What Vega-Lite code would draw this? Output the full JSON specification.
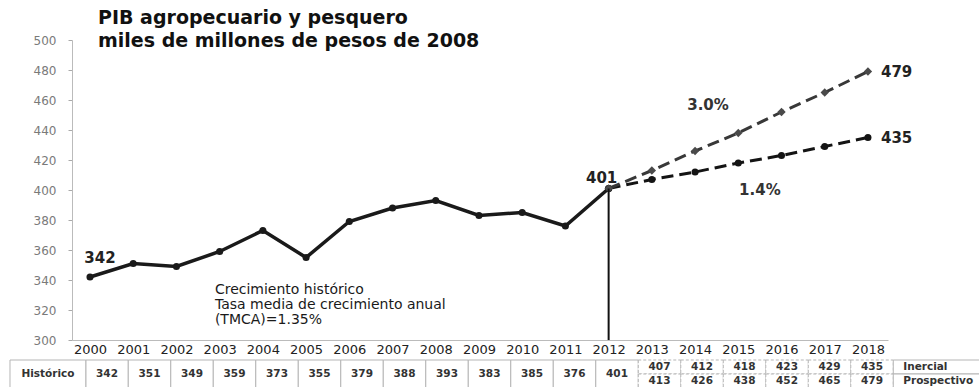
{
  "$schema": "https://vega.github.io/schema/vega-lite/v6.json",
  "width": 816,
  "height": 300,
  "autosize": {"type": "none"},
  "padding": {"left": 72, "top": 40, "right": 91, "bottom": 47},
  "background": "white",
  "config": {"view": {"stroke": null}, "font": "DejaVu Sans", "axis": {"grid": false}},
  "title": {
    "text": ["PIB agropecuario y pesquero", "miles de millones de pesos de 2008"],
    "anchor": "start",
    "frame": "group",
    "font": "DejaVu Sans",
    "fontSize": 19,
    "fontWeight": "bold",
    "color": "#111111",
    "lineHeight": 23,
    "dx": 26,
    "offset": 0,
    "dy": 17
  },
  "datasets": {
    "pib": [
      {"anio": 2000, "serie": "Histórico", "valor": 342},
      {"anio": 2001, "serie": "Histórico", "valor": 351},
      {"anio": 2002, "serie": "Histórico", "valor": 349},
      {"anio": 2003, "serie": "Histórico", "valor": 359},
      {"anio": 2004, "serie": "Histórico", "valor": 373},
      {"anio": 2005, "serie": "Histórico", "valor": 355},
      {"anio": 2006, "serie": "Histórico", "valor": 379},
      {"anio": 2007, "serie": "Histórico", "valor": 388},
      {"anio": 2008, "serie": "Histórico", "valor": 393},
      {"anio": 2009, "serie": "Histórico", "valor": 383},
      {"anio": 2010, "serie": "Histórico", "valor": 385},
      {"anio": 2011, "serie": "Histórico", "valor": 376},
      {"anio": 2012, "serie": "Histórico", "valor": 401},
      {"anio": 2012, "serie": "Inercial", "valor": 401},
      {"anio": 2013, "serie": "Inercial", "valor": 407},
      {"anio": 2014, "serie": "Inercial", "valor": 412},
      {"anio": 2015, "serie": "Inercial", "valor": 418},
      {"anio": 2016, "serie": "Inercial", "valor": 423},
      {"anio": 2017, "serie": "Inercial", "valor": 429},
      {"anio": 2018, "serie": "Inercial", "valor": 435},
      {"anio": 2012, "serie": "Prospectivo", "valor": 401},
      {"anio": 2013, "serie": "Prospectivo", "valor": 413},
      {"anio": 2014, "serie": "Prospectivo", "valor": 426},
      {"anio": 2015, "serie": "Prospectivo", "valor": 438},
      {"anio": 2016, "serie": "Prospectivo", "valor": 452},
      {"anio": 2017, "serie": "Prospectivo", "valor": 465},
      {"anio": 2018, "serie": "Prospectivo", "valor": 479}
    ],
    "notas": [
      {"texto": "3.0%", "anio": 2014.3, "valor": 456.7},
      {"texto": "1.4%", "anio": 2015.5, "valor": 400.3}
    ],
    "nota_historica": [
      {"texto": "Crecimiento histórico\nTasa media de crecimiento anual\n(TMCA)=1.35%", "anio": 2002.89, "valor": 330.5}
    ],
    "encabezados": [
      {"serie": "Histórico"},
      {"serie": "Inercial"},
      {"serie": "Prospectivo"}
    ]
  },
  "layer": [
    {
      "data": {"name": "pib"},
      "encoding": {
        "x": {
          "field": "anio", "type": "quantitative",
          "scale": {"domain": [1999.5835, 2018.464], "nice": false, "zero": false},
          "axis": {
            "values": [2000, 2001, 2002, 2003, 2004, 2005, 2006, 2007, 2008, 2009, 2010, 2011, 2012, 2013, 2014, 2015, 2016, 2017, 2018],
            "format": "d", "title": null, "tickSize": 0, "labelPadding": 3,
            "labelFont": "DejaVu Sans", "labelFontSize": 13, "labelColor": "#222222",
            "labelFlush": false, "labelOverlap": false,
            "domainColor": "#bbbbbb", "domainWidth": 1
          }
        },
        "y": {
          "field": "valor", "type": "quantitative",
          "scale": {"domain": [300, 500], "nice": false, "zero": false},
          "axis": {
            "values": [300, 320, 340, 360, 380, 400, 420, 440, 460, 480, 500],
            "title": null, "tickSize": 4, "tickColor": "#aaaaaa", "labelPadding": 12,
            "labelFont": "DejaVu Sans", "labelFontSize": 12, "labelColor": "#7a7a7a",
            "domainColor": "#bbbbbb", "domainWidth": 1
          }
        }
      },
      "layer": [
        {
          "transform": [{"filter": "datum.serie == 'Histórico'"}],
          "mark": {"type": "line", "color": "#1a1a1a", "strokeWidth": 3.5,
                   "point": {"filled": true, "size": 50, "color": "#1a1a1a"}}
        },
        {
          "transform": [{"filter": "datum.serie == 'Inercial'"}],
          "mark": {"type": "line", "color": "#141414", "strokeWidth": 3, "strokeDash": [12, 6],
                   "point": {"filled": true, "size": 50, "color": "#141414"}}
        },
        {
          "transform": [{"filter": "datum.serie == 'Prospectivo'"}],
          "mark": {"type": "line", "color": "#383838", "strokeWidth": 3, "strokeDash": [12, 6],
                   "point": {"filled": true, "size": 70, "shape": "diamond", "color": "#4a4a4a"}}
        },
        {
          "transform": [{"filter": "datum.serie == 'Histórico' && datum.anio == 2012"}],
          "mark": {"type": "rule", "color": "#111111", "strokeWidth": 2},
          "encoding": {"y2": {"datum": 300}}
        },
        {
          "transform": [{"filter": "datum.serie == 'Histórico' && datum.anio == 2000"}],
          "mark": {"type": "text", "font": "DejaVu Sans", "fontSize": 15, "fontWeight": "bold", "color": "#222222",
                   "align": "center", "baseline": "alphabetic", "dx": 10, "dy": -14},
          "encoding": {"text": {"field": "valor", "type": "quantitative"}}
        },
        {
          "transform": [{"filter": "datum.serie == 'Histórico' && datum.anio == 2012"}],
          "mark": {"type": "text", "font": "DejaVu Sans", "fontSize": 15, "fontWeight": "bold", "color": "#222222",
                   "align": "center", "baseline": "alphabetic", "dx": -7, "dy": -6},
          "encoding": {"text": {"field": "valor", "type": "quantitative"}}
        },
        {
          "transform": [{"filter": "datum.serie != 'Histórico' && datum.anio == 2018"}],
          "mark": {"type": "text", "font": "DejaVu Sans", "fontSize": 15, "fontWeight": "bold", "color": "#222222",
                   "align": "left", "baseline": "middle", "dx": 13},
          "encoding": {"text": {"field": "valor", "type": "quantitative"}}
        },
        {
          "data": {"name": "notas"},
          "mark": {"type": "text", "font": "DejaVu Sans", "fontSize": 15, "fontWeight": "bold", "color": "#333333",
                   "align": "center", "baseline": "middle"},
          "encoding": {"text": {"field": "texto", "type": "nominal"}}
        },
        {
          "data": {"name": "nota_historica"},
          "mark": {"type": "text", "font": "DejaVu Sans", "fontSize": 14, "color": "#1a1a1a",
                   "align": "left", "baseline": "alphabetic", "lineBreak": "\n", "lineHeight": 15},
          "encoding": {"text": {"field": "texto", "type": "nominal"}}
        }
      ]
    },
    {
      "layer": [
        {
          "data": {"name": "pib"},
          "transform": [{"filter": "datum.serie == 'Histórico'"}],
          "mark": {"type": "rect", "fill": "white", "stroke": "#b5b5b5", "strokeWidth": 1, "width": 42.5},
          "encoding": {
            "x": {"field": "anio", "type": "quantitative",
                  "scale": {"domain": [1999.176, 2018.376], "nice": false, "zero": false}, "axis": null},
            "y": {"datum": "Inercial", "type": "nominal", "bandPosition": 0,
                  "scale": {"type": "band", "domain": ["Inercial", "Prospectivo"], "range": [320, 348], "paddingInner": 0, "paddingOuter": 0}, "axis": null},
            "y2": {"datum": "Prospectivo", "bandPosition": 1}
          }
        },
        {
          "data": {"name": "pib"},
          "transform": [{"filter": "datum.serie != 'Histórico' && datum.anio > 2012"}],
          "mark": {"type": "rect", "fill": "white", "stroke": "#b5b5b5", "strokeWidth": 1, "strokeDash": [3, 2], "width": 42.5},
          "encoding": {
            "x": {"field": "anio", "type": "quantitative", "axis": null},
            "y": {"field": "serie", "type": "nominal", "axis": null}
          }
        },
        {
          "data": {"name": "encabezados"},
          "transform": [{"filter": "datum.serie == 'Histórico'"}],
          "mark": {"type": "rect", "fill": "white", "stroke": "#b5b5b5", "strokeWidth": 1},
          "encoding": {
            "x": {"datum": 1997.717, "type": "quantitative", "axis": null},
            "x2": {"datum": 1999.5},
            "y": {"datum": "Inercial", "type": "nominal", "bandPosition": 0, "axis": null},
            "y2": {"datum": "Prospectivo", "bandPosition": 1}
          }
        },
        {
          "data": {"name": "encabezados"},
          "transform": [{"filter": "datum.serie != 'Histórico'"}],
          "mark": {"type": "rect", "fill": "white", "stroke": "#b5b5b5", "strokeWidth": 1},
          "encoding": {
            "x": {"datum": 2018.5, "type": "quantitative", "axis": null},
            "x2": {"datum": 2021.5},
            "y": {"field": "serie", "type": "nominal", "axis": null}
          }
        },
        {
          "data": {"name": "pib"},
          "transform": [{"filter": "datum.serie == 'Histórico'"}],
          "mark": {"type": "text", "font": "DejaVu Sans", "fontSize": 10.5, "fontWeight": "bold", "color": "#333333",
                   "align": "center", "baseline": "middle"},
          "encoding": {
            "x": {"field": "anio", "type": "quantitative", "axis": null},
            "y": {"datum": "Inercial", "type": "nominal", "bandPosition": 1, "axis": null},
            "text": {"field": "valor", "type": "quantitative"}
          }
        },
        {
          "data": {"name": "pib"},
          "transform": [{"filter": "datum.serie != 'Histórico' && datum.anio > 2012"}],
          "mark": {"type": "text", "font": "DejaVu Sans", "fontSize": 10.5, "fontWeight": "bold", "color": "#333333",
                   "align": "center", "baseline": "middle"},
          "encoding": {
            "x": {"field": "anio", "type": "quantitative", "axis": null},
            "y": {"field": "serie", "type": "nominal", "axis": null},
            "text": {"field": "valor", "type": "quantitative"}
          }
        },
        {
          "data": {"name": "encabezados"},
          "transform": [{"filter": "datum.serie == 'Histórico'"}],
          "mark": {"type": "text", "font": "DejaVu Sans", "fontSize": 10.5, "fontWeight": "bold", "color": "#333333",
                   "align": "center", "baseline": "middle"},
          "encoding": {
            "x": {"datum": 1998.611, "type": "quantitative", "axis": null},
            "y": {"datum": "Inercial", "type": "nominal", "bandPosition": 1, "axis": null},
            "text": {"field": "serie", "type": "nominal"}
          }
        },
        {
          "data": {"name": "encabezados"},
          "transform": [{"filter": "datum.serie != 'Histórico'"}],
          "mark": {"type": "text", "font": "DejaVu Sans", "fontSize": 10.5, "fontWeight": "bold", "color": "#333333",
                   "align": "left", "baseline": "middle", "dx": 10},
          "encoding": {
            "x": {"datum": 2018.5, "type": "quantitative", "axis": null},
            "y": {"field": "serie", "type": "nominal", "axis": null},
            "text": {"field": "serie", "type": "nominal"}
          }
        }
      ]
    }
  ],
  "resolve": {"scale": {"x": "independent", "y": "independent"}, "axis": {"x": "independent", "y": "independent"}}
}
